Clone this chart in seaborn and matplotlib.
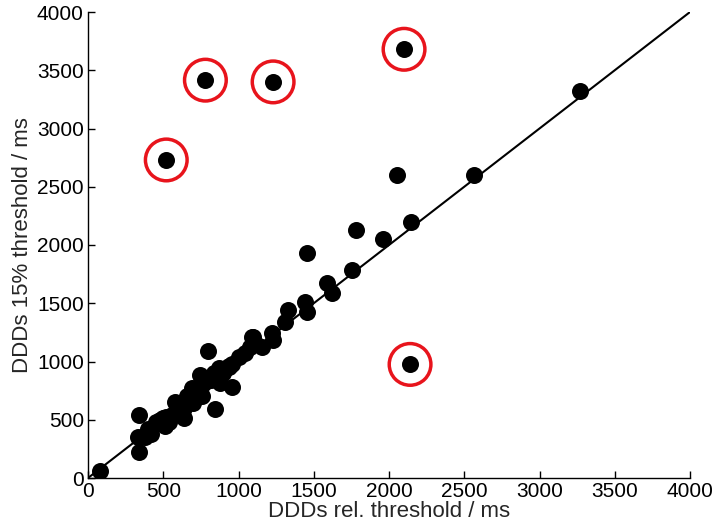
import matplotlib
matplotlib.use("Agg")
import matplotlib.pyplot as plt
import pandas as pd
import seaborn as sns

# DDDs: relative threshold vs 15% threshold (ms)
rel_threshold = [
    80, 340, 340, 330, 380, 400, 420, 450, 470, 480, 500, 510, 520, 540, 560,
    580, 600, 625, 636, 640, 650, 660, 680, 690, 700, 700, 720, 740, 746, 760,
    760, 780, 797, 800, 820, 842, 840, 860, 868, 879, 880, 900, 920, 935, 940,
    955, 960, 1000, 1045, 1076, 1090, 1098, 1112, 1154, 1220, 1231, 1309, 1331,
    1442, 1453, 1457, 1586, 1619, 1756, 1779, 1962, 2055, 2146, 2565, 3269,
]
pct15_threshold = [
    63, 226, 541, 355, 355, 420, 380, 483, 470, 500, 512, 450, 520, 480, 540,
    655, 640, 558, 512, 600, 660, 700, 680, 773, 720, 640, 700, 760, 884, 800,
    700, 820, 1093, 860, 840, 590, 900, 880, 941, 813, 920, 900, 940, 955, 960,
    784, 980, 1041, 1070, 1127, 1213, 1213, 1156, 1127, 1242, 1185, 1342, 1442,
    1513, 1427, 1934, 1671, 1585, 1785, 2129, 2049, 2601, 2200, 2601, 3322,
]

# circled outliers
out_rel = [520, 780, 1230, 2100, 2140]
out_pct = [2730, 3415, 3400, 3680, 975]

df = pd.DataFrame({"rel": rel_threshold + out_rel,
                   "pct": pct15_threshold + out_pct})
out_df = pd.DataFrame({"rel": out_rel, "pct": out_pct})

sns.set_style("ticks")
plt.rcParams["font.family"] = ["Liberation Sans", "DejaVu Sans"]

fig = plt.figure(figsize=(7.16, 5.32), dpi=100)
ax = fig.add_axes([88 / 716, 54 / 532, 602 / 716, 466 / 532])

ax.plot([0, 4000], [0, 4000], color="black", lw=1.5, zorder=1)
sns.scatterplot(ax=ax, data=df, x="rel", y="pct", color="black", s=150,
                edgecolor="black", linewidth=0, zorder=3)
sns.scatterplot(ax=ax, data=out_df, x="rel", y="pct", s=900,
                facecolor="none", edgecolor="#e8141c", linewidth=2.5, zorder=2)

ax.set_xlim(0, 4000)
ax.set_ylim(0, 4000)
ax.set_xticks(range(0, 4001, 500))
ax.set_yticks(range(0, 4001, 500))
ax.tick_params(direction="in", length=5, width=1, labelsize=15,
               colors="black", pad=3)
ax.set_xlabel("DDDs rel. threshold / ms", fontsize=16, labelpad=0)
ax.set_ylabel("DDDs 15% threshold / ms", fontsize=16, labelpad=3)
for side in ["top", "right"]:
    ax.spines[side].set_visible(False)
for side in ["left", "bottom"]:
    ax.spines[side].set_color("black")
    ax.spines[side].set_linewidth(1)

fig.savefig("out.png", dpi=100)
